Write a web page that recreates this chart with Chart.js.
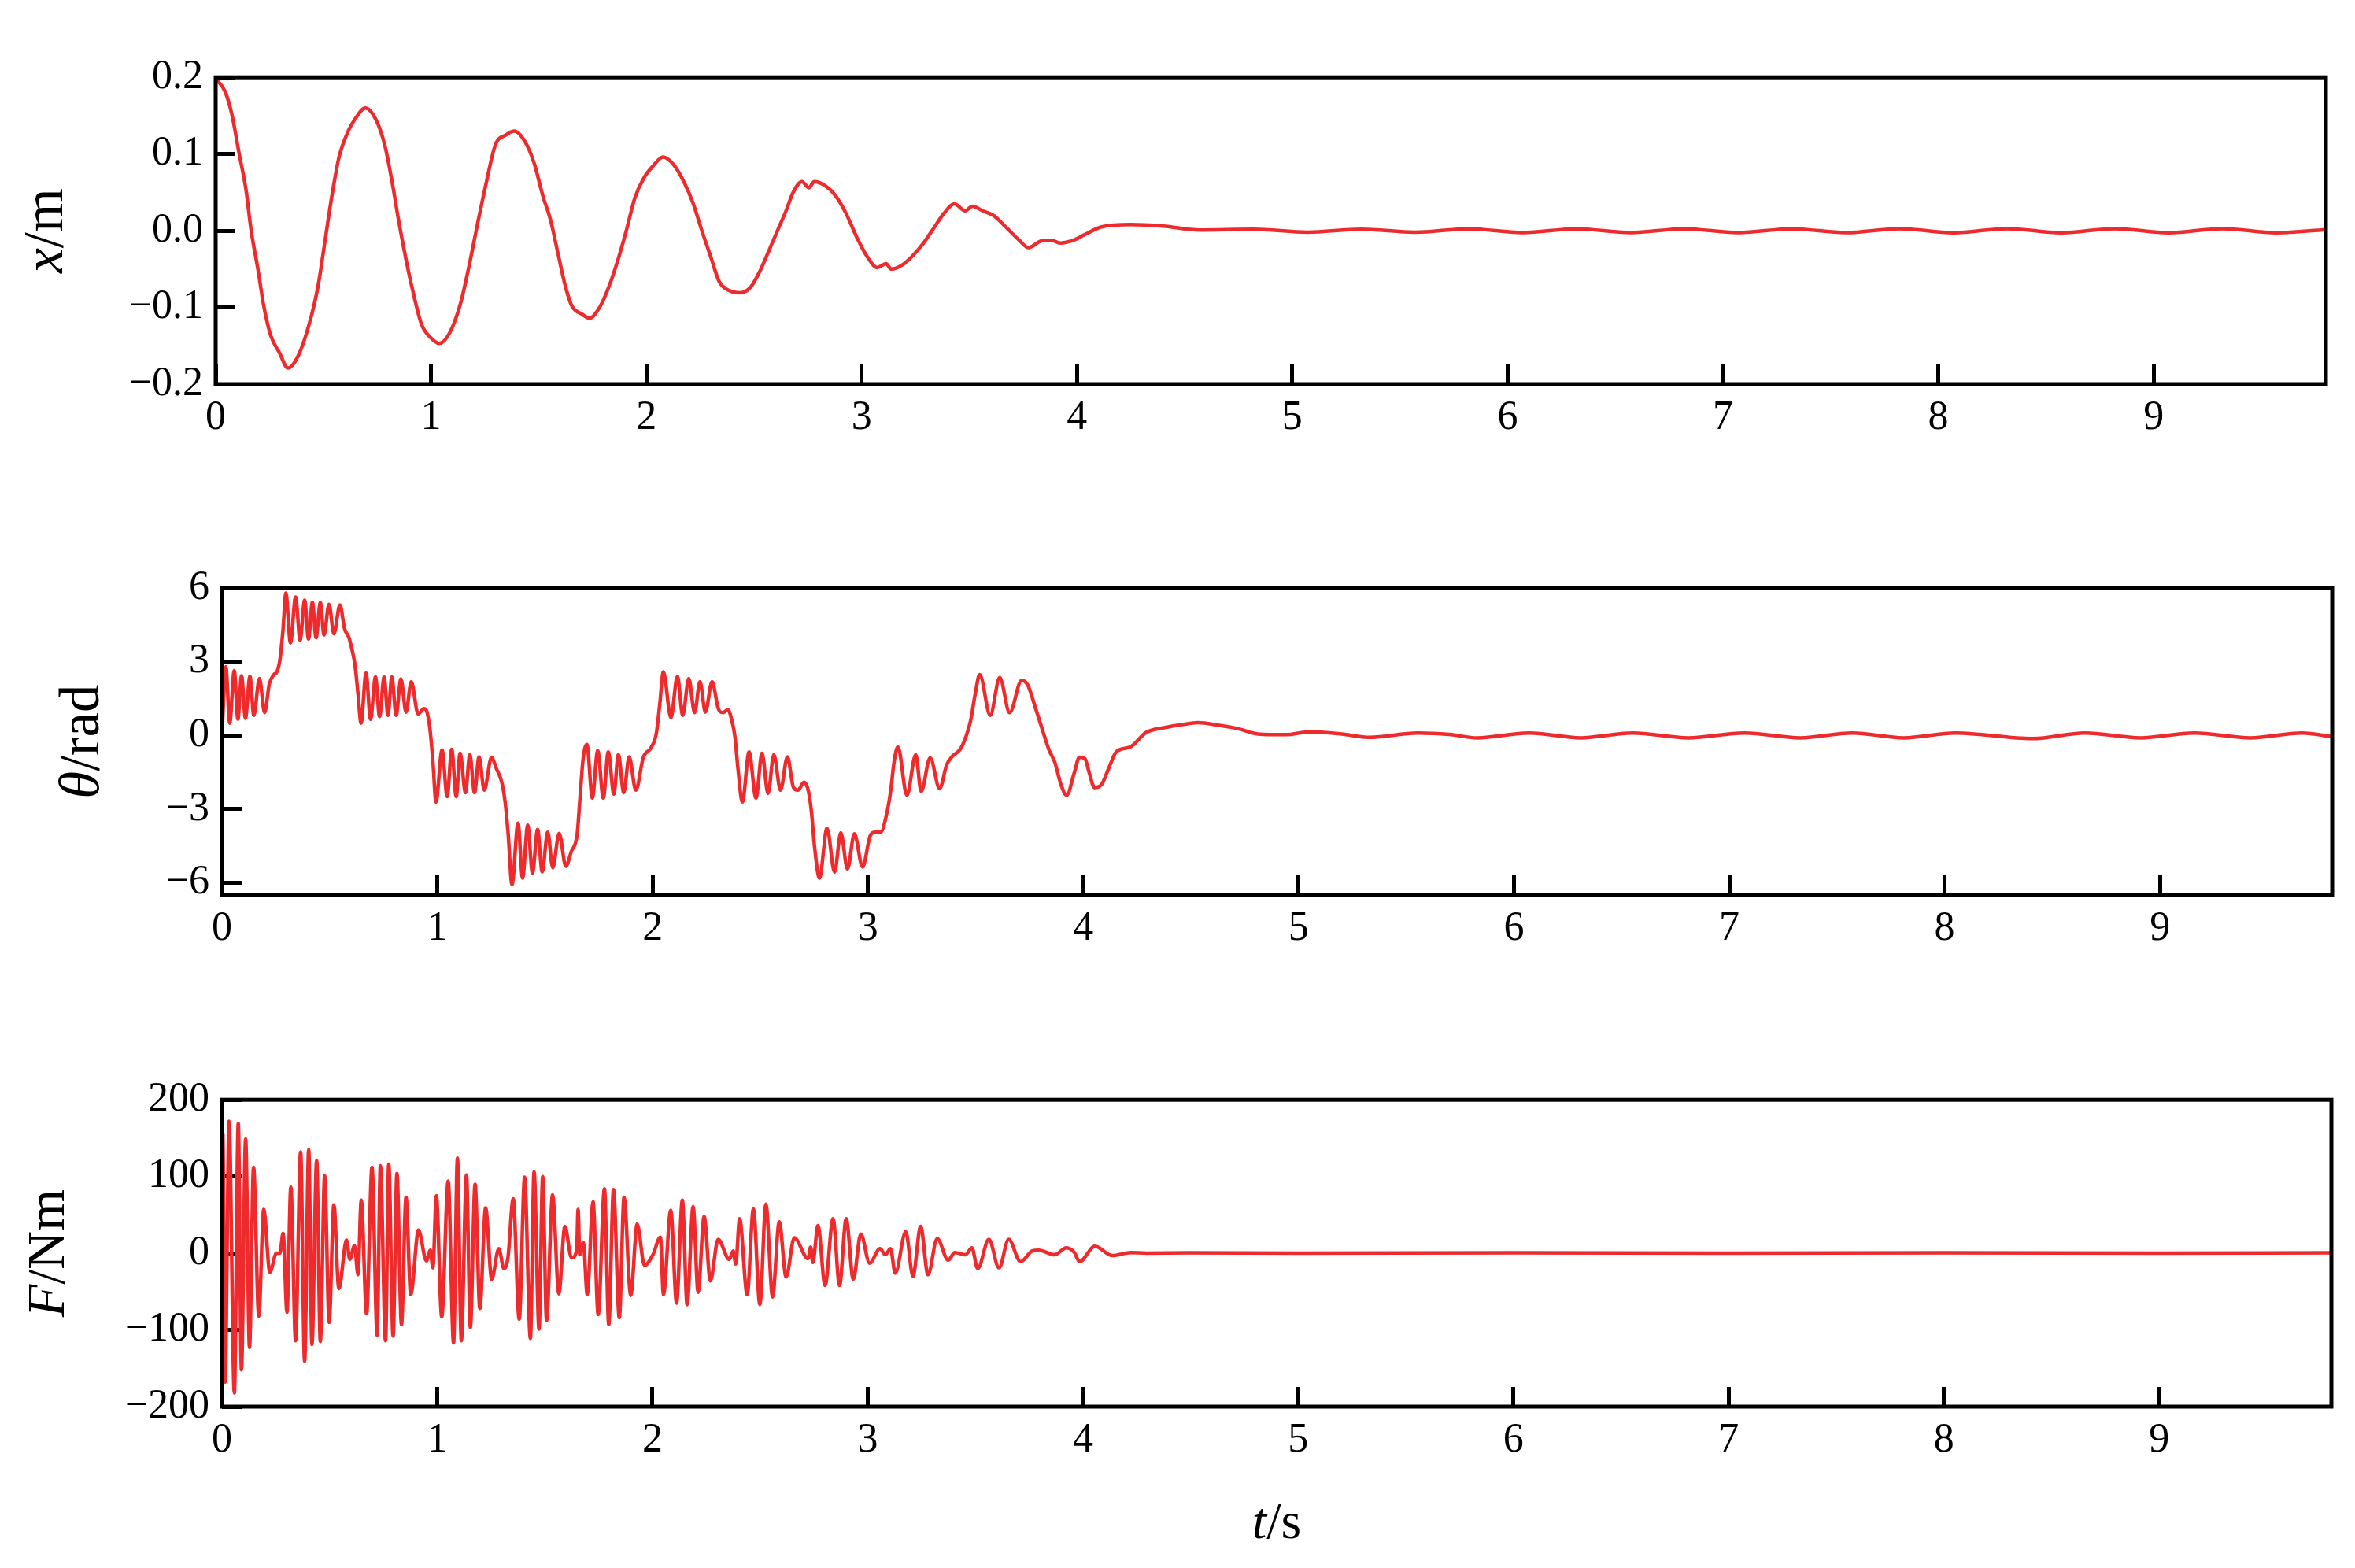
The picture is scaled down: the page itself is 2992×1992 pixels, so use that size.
<!DOCTYPE html>
<html>
<head>
<meta charset="utf-8">
<script src="https://cdn.jsdelivr.net/npm/chart.js@4.4.1/dist/chart.umd.min.js"></script>
<style>
  body { margin: 0; background: #fff; }
  canvas { position: absolute; left: 0; }
</style>
</head>
<body>
<canvas id="chartX"></canvas>
<canvas id="chartTheta"></canvas>
<canvas id="chartF"></canvas>
<script>
// time axis (s)
const tTicks = [0, 1, 2, 3, 4, 5, 6, 7, 8, 9];
const tTickLabels = ['0', '1', '2', '3', '4', '5', '6', '7', '8', '9'];

// x / m
const xTime = [0, 0.043, 0.075, 0.108, 0.141, 0.165, 0.198, 0.222, 0.255, 0.296,
  0.336, 0.385, 0.434, 0.475, 0.508, 0.54, 0.573, 0.614, 0.646, 0.695,
  0.744, 0.785, 0.818, 0.85, 0.883, 0.916, 0.956, 0.997, 1.038, 1.087,
  1.136, 1.176, 1.217, 1.257, 1.299, 1.348, 1.388, 1.437, 1.478, 1.519,
  1.556, 1.59, 1.622, 1.654, 1.703, 1.735, 1.785, 1.826, 1.866, 1.907,
  1.947, 1.989, 2.03, 2.078, 2.127, 2.176, 2.217, 2.258, 2.298, 2.338,
  2.371, 2.437, 2.486, 2.527, 2.568, 2.609, 2.649, 2.682, 2.723, 2.755,
  2.78, 2.829, 2.878, 2.927, 2.975, 3.024, 3.073, 3.113, 3.138, 3.187,
  3.236, 3.285, 3.334, 3.383, 3.431, 3.481, 3.514, 3.562, 3.612, 3.676,
  3.734, 3.775, 3.84, 3.888, 3.92, 3.986, 4.036, 4.114, 4.25, 4.4,
  4.57, 4.82, 5.07, 5.32, 5.57, 5.82, 6.07, 6.32, 6.57, 6.82,
  7.07, 7.32, 7.57, 7.82, 8.07, 8.32, 8.57, 8.82, 9.07, 9.32,
  9.57, 9.8];
const xVals = [0.198, 0.182, 0.152, 0.102, 0.053, 0.0, -0.053, -0.096, -0.136, -0.159,
  -0.179, -0.162, -0.122, -0.073, -0.013, 0.046, 0.096, 0.129, 0.145, 0.16,
  0.145, 0.112, 0.066, 0.013, -0.036, -0.079, -0.122, -0.139, -0.147, -0.133,
  -0.096, -0.047, 0.01, 0.063, 0.112, 0.125, 0.13, 0.116, 0.089, 0.046,
  0.013, -0.03, -0.07, -0.098, -0.109, -0.114, -0.099, -0.073, -0.04, 0.0,
  0.043, 0.069, 0.084, 0.096, 0.086, 0.063, 0.036, 0.0, -0.033, -0.066,
  -0.076, -0.081, -0.073, -0.053, -0.027, 0.0, 0.026, 0.05, 0.064, 0.056,
  0.064, 0.059, 0.046, 0.023, -0.007, -0.033, -0.048, -0.043, -0.05, -0.045,
  -0.033, -0.017, 0.003, 0.023, 0.035, 0.026, 0.032, 0.026, 0.02, 0.003,
  -0.013, -0.022, -0.013, -0.013, -0.016, -0.012, -0.005, 0.005, 0.008, 0.006,
  0.001, 0.002, -0.002, 0.002, -0.002, 0.0025, -0.0025, 0.0025, -0.0025, 0.0025,
  -0.0025, 0.0025, -0.0025, 0.0027, -0.0027, 0.0027, -0.0027, 0.0027, -0.0027, 0.0027,
  -0.0027, 0.0015];
const xTicks = [-0.2, -0.1, 0, 0.1, 0.2];
const xTickLabels = ['\u22120.2', '\u22120.1', '0.0', '0.1', '0.2'];

// theta / rad
const thetaTime = [0, 0.018, 0.036, 0.057, 0.074, 0.091, 0.109, 0.13, 0.148, 0.174,
  0.198, 0.22, 0.241, 0.255, 0.269, 0.283, 0.297, 0.318, 0.342, 0.363,
  0.384, 0.402, 0.42, 0.437, 0.457, 0.474, 0.497, 0.52, 0.548, 0.569,
  0.59, 0.604, 0.618, 0.632, 0.646, 0.669, 0.69, 0.713, 0.732, 0.753,
  0.771, 0.789, 0.809, 0.831, 0.855, 0.879, 0.911, 0.939, 0.953, 0.967,
  0.98, 0.994, 1.022, 1.046, 1.067, 1.088, 1.106, 1.131, 1.151, 1.173,
  1.194, 1.218, 1.252, 1.273, 1.301, 1.315, 1.329, 1.347, 1.375, 1.396,
  1.42, 1.442, 1.466, 1.487, 1.513, 1.536, 1.566, 1.597, 1.622, 1.65,
  1.664, 1.678, 1.695, 1.72, 1.745, 1.771, 1.794, 1.82, 1.841, 1.866,
  1.891, 1.922, 1.957, 1.992, 2.017, 2.033, 2.05, 2.085, 2.115, 2.14,
  2.168, 2.195, 2.22, 2.245, 2.276, 2.305, 2.326, 2.35, 2.368, 2.382,
  2.396, 2.417, 2.448, 2.48, 2.508, 2.536, 2.563, 2.594, 2.626, 2.654,
  2.675, 2.703, 2.724, 2.738, 2.752, 2.775, 2.81, 2.845, 2.874, 2.905,
  2.937, 2.975, 3.01, 3.031, 3.059, 3.086, 3.107, 3.121, 3.139, 3.181,
  3.222, 3.247, 3.289, 3.333, 3.365, 3.393, 3.428, 3.456, 3.477, 3.498,
  3.519, 3.568, 3.612, 3.658, 3.714, 3.742, 3.777, 3.812, 3.84, 3.868,
  3.895, 3.923, 3.958, 3.982, 4.007, 4.028, 4.052, 4.084, 4.119, 4.153,
  4.218, 4.292, 4.385, 4.459, 4.533, 4.626, 4.718, 4.811, 4.941, 5.052,
  5.2, 5.33, 5.552, 5.7, 5.83, 6.07, 6.31, 6.55, 6.81, 7.07,
  7.33, 7.57, 7.81, 8.05, 8.41, 8.65, 8.91, 9.16, 9.42, 9.66,
  9.8];
const thetaVals = [0, 2.8, 0.5, 2.64, 0.66, 2.43, 0.7, 2.41, 0.82, 2.32,
  0.93, 2.1, 2.48, 2.59, 3.07, 4.25, 5.8, 3.77, 5.64, 3.88,
  5.51, 3.93, 5.43, 3.98, 5.41, 4.09, 5.34, 4.14, 5.32, 4.36,
  3.98, 3.5, 2.86, 1.68, 0.5, 2.54, 0.66, 2.38, 0.77, 2.38,
  0.82, 2.38, 0.82, 2.3, 0.95, 2.19, 0.88, 1.09, 0.93, 0.18,
  -1.1, -2.71, -0.59, -2.49, -0.57, -2.49, -0.73, -2.33, -0.78, -2.33,
  -0.87, -2.23, -0.89, -1.32, -1.96, -2.71, -3.99, -6.08, -3.57, -5.81,
  -3.65, -5.6, -3.83, -5.55, -3.94, -5.39, -3.99, -5.33, -4.74, -3.99,
  -2.39, -0.89, -0.37, -2.55, -0.62, -2.55, -0.67, -2.39, -0.78, -2.33,
  -0.87, -2.23, -0.89, -0.51, 0.07, 1.25, 2.59, 0.72, 2.41, 0.82,
  2.32, 0.93, 2.19, 0.95, 2.19, 1.09, 0.93, 1.04, 0.61, -0.03,
  -1.32, -2.71, -0.67, -2.55, -0.73, -2.36, -0.78, -2.23, -0.87, -2.12,
  -2.23, -1.91, -2.28, -3.14, -4.53, -5.81, -3.78, -5.57, -3.97, -5.44,
  -4.01, -5.36, -4.1, -3.94, -3.94, -3.24, -2.17, -1.1, -0.46, -2.44,
  -0.78, -2.28, -0.91, -2.17, -1.21, -0.84, -0.57, -0.03, 0.61, 1.68,
  2.48, 0.82, 2.36, 0.93, 2.25, 2.06, 1.15, 0.18, -0.57, -1.1,
  -1.96, -2.44, -1.53, -0.89, -0.94, -1.53, -2.12, -2.01, -1.32, -0.67,
  -0.47, 0.12, 0.33, 0.44, 0.52, 0.42, 0.28, 0.06, 0.03, 0.15,
  0.06, -0.08, 0.1, 0.04, -0.1, 0.1, -0.1, 0.1, -0.1, 0.1,
  -0.1, 0.1, -0.1, 0.1, -0.13, 0.1, -0.1, 0.1, -0.1, 0.1,
  -0.05];
const thetaTicks = [-6, -3, 0, 3, 6];
const thetaTickLabels = ['\u22126', '\u22123', '0', '3', '6'];

// F / Nm
const fTime = [0, 0.004, 0.0147, 0.033, 0.0575, 0.0758, 0.0905, 0.11, 0.128, 0.1467,
  0.171, 0.194, 0.2225, 0.253, 0.269, 0.284, 0.302, 0.32, 0.342, 0.3655,
  0.384, 0.403, 0.418, 0.44, 0.457, 0.477, 0.498, 0.52, 0.543, 0.579,
  0.594, 0.616, 0.632, 0.647, 0.672, 0.697, 0.721, 0.736, 0.76, 0.775,
  0.795, 0.813, 0.834, 0.855, 0.877, 0.913, 0.95, 0.968, 0.98, 0.996,
  1.021, 1.051, 1.076, 1.094, 1.112, 1.136, 1.154, 1.176, 1.198, 1.225,
  1.253, 1.286, 1.31, 1.329, 1.353, 1.381, 1.406, 1.433, 1.45, 1.473,
  1.49, 1.508, 1.536, 1.565, 1.593, 1.624, 1.648, 1.6545, 1.662, 1.679,
  1.697, 1.724, 1.748, 1.777, 1.797, 1.819, 1.846, 1.868, 1.899, 1.929,
  1.963, 2.002, 2.037, 2.051, 2.085, 2.112, 2.139, 2.161, 2.189, 2.212,
  2.24, 2.269, 2.305, 2.357, 2.375, 2.387, 2.405, 2.44, 2.469, 2.499,
  2.527, 2.558, 2.589, 2.621, 2.659, 2.723, 2.735, 2.745, 2.769, 2.802,
  2.839, 2.869, 2.9, 2.933, 2.968, 3.009, 3.057, 3.082, 3.106, 3.128,
  3.177, 3.21, 3.246, 3.28, 3.323, 3.374, 3.405, 3.454, 3.484, 3.511,
  3.563, 3.61, 3.655, 3.71, 3.765, 3.795, 3.868, 3.923, 3.96, 3.984,
  4.055, 4.137, 4.222, 4.295, 4.49, 5, 6, 7, 8, 9,
  9.8];
const fVals = [-25, 156, -168, 172, -182, 169, -152, 149, -123, 112,
  -82, 57, -25, 0, 0, 26, -77, 86, -114, 132,
  -141, 135, -119, 121, -115, 101, -90, 63, -46, 17,
  -8, 10, -28, 69, -79, 112, -107, 114, -114, 116,
  -108, 104, -93, 73, -54, 30, -10, 4, -19, 75,
  -83, 94, -117, 124, -114, 102, -97, 90, -72, 59,
  -34, 6, -20, -5, 71, -86, 99, -111, 106, -99,
  100, -88, 76, -53, 35, -6, 4, 57, -2, 14,
  -54, 67, -80, 84, -93, 83, -84, 73, -55, 38,
  -16, -2, 21, -54, 56, -65, 69, -67, 61, -51,
  48, -36, 18, -8, 3, -14, 45, -54, 58, -67,
  64, -57, 41, -31, 20, -7, 8, -12, 36, -42,
  45, -42, 45, -34, 25, -13, 6, -2, 6, -26,
  28, -30, 35, -28, 19, -9, 1, -2, 7, -20,
  18, -19, 18, -11, 3, 4, -2, 7, 1, -11,
  9, -3, 1, 0, 0.5, 0, 0.5, 0, 0.5, 0,
  0.5];
const fTicks = [-200, -100, 0, 100, 200];
const fTickLabels = ['\u2212200', '\u2212100', '0', '100', '200'];

[[xTime, xVals], [thetaTime, thetaVals], [fTime, fVals]].forEach(function (p, k) {
  if (p[0].length !== p[1].length) throw new Error('series ' + k + ': ' + p[0].length + ' times vs ' + p[1].length + ' values');
});

const FONT = '"Liberation Serif", "Times New Roman", serif';
const RED = '#ee2a2d';

// draws a title made of italic / upright pieces, centred on (cx, cy)
function drawRich(ctx, parts, size, cx, cy, rot) {
  ctx.save();
  ctx.translate(cx, cy);
  ctx.rotate(rot);
  ctx.fillStyle = '#000';
  ctx.textBaseline = 'middle';
  ctx.textAlign = 'left';
  const fonts = parts.map(p => (p.it ? 'italic ' : '') + size + 'px ' + FONT);
  let total = 0;
  const widths = parts.map((p, i) => {
    ctx.font = fonts[i];
    const w = ctx.measureText(p.s).width;
    total += w;
    return w;
  });
  let x = -total / 2;
  parts.forEach((p, i) => {
    ctx.font = fonts[i];
    ctx.fillText(p.s, x, 0);
    x += widths[i];
  });
  ctx.restore();
}

const frame = {
  id: 'frame',
  afterDraw(chart, args, opts) {
    const ctx = chart.ctx, a = chart.chartArea;
    ctx.save();
    ctx.strokeStyle = '#000';
    ctx.lineWidth = 5;
    ctx.strokeRect(a.left, a.top, a.right - a.left, a.bottom - a.top);
    ctx.restore();
    drawRich(ctx, opts.yTitle, opts.yTitleSize, opts.yTitleX, (a.top + a.bottom) / 2, -Math.PI / 2);
    if (opts.xTitle) drawRich(ctx, opts.xTitle, 66, (a.left + a.right) / 2, a.bottom + opts.xTitleDy, 0);
  }
};

function makePanel(id, box, time, vals, yMin, yMax, yTicks, yLabels, titleOpts, extraBottom) {
  const padTop = 30, axisH = 100;
  const cv = document.getElementById(id);
  const h = (box.bottom - box.top) + padTop + axisH + extraBottom;
  cv.width = 2992;
  cv.height = h;
  cv.style.top = (box.top - padTop) + 'px';
  cv.style.width = '2992px';
  cv.style.height = h + 'px';

  const points = time.map((t, i) => ({ x: t, y: vals[i] }));
  const tickFont = { family: FONT, size: 52 };
  const gridOpts = { drawOnChartArea: false, drawTicks: true, tickLength: -25, tickWidth: 5, lineWidth: 5, tickColor: '#000', color: '#000' };

  return new Chart(cv, {
    type: 'line',
    data: {
      datasets: [{
        data: points,
        borderColor: RED,
        borderWidth: 4.5,
        pointRadius: 0,
        fill: false,
        cubicInterpolationMode: 'monotone'
      }]
    },
    options: {
      responsive: false,
      animation: false,
      devicePixelRatio: 1,
      layout: { padding: { top: padTop, left: 0, right: 2992 - box.right, bottom: extraBottom } },
      plugins: {
        legend: { display: false },
        tooltip: { enabled: false },
        frame: titleOpts
      },
      scales: {
        x: {
          type: 'linear',
          min: 0,
          max: 9.8,
          afterBuildTicks: s => { s.ticks = tTicks.map(v => ({ value: v })); },
          afterFit: s => { s.height = axisH; },
          border: { display: false },
          grid: gridOpts,
          ticks: {
            autoSkip: false, maxRotation: 0, minRotation: 0, padding: 37,
            color: '#000', font: tickFont,
            callback: (v, i) => tTickLabels[i]
          }
        },
        y: {
          type: 'linear',
          min: yMin,
          max: yMax,
          afterBuildTicks: s => { s.ticks = yTicks.map(v => ({ value: v })); },
          afterFit: s => { s.width = box.left; },
          border: { display: false },
          grid: gridOpts,
          ticks: {
            autoSkip: false, padding: 41,
            color: '#000', font: tickFont,
            callback: (v, i) => yLabels[i]
          }
        }
      }
    },
    plugins: [frame]
  });
}

makePanel('chartX', { top: 56, bottom: 488, left: 274, right: 2955 },
  xTime, xVals, -0.2, 0.2, xTicks, xTickLabels,
  { yTitle: [{ s: 'x', it: true }, { s: '/m' }], yTitleSize: 72, yTitleX: 60 }, 0);

makePanel('chartTheta', { top: 705, bottom: 1137, left: 282, right: 2963 },
  thetaTime, thetaVals, -6.5, 6, thetaTicks, thetaTickLabels,
  { yTitle: [{ s: '\u03b8', it: true }, { s: '/rad' }], yTitleSize: 71, yTitleX: 106 }, 0);

makePanel('chartF', { top: 1355, bottom: 1787, left: 282, right: 2962 },
  fTime, fVals, -200, 200, fTicks, fTickLabels,
  { yTitle: [{ s: 'F', it: true }, { s: '/Nm' }], yTitleSize: 68, yTitleX: 63,
    xTitle: [{ s: 't', it: true }, { s: '/s' }], xTitleDy: 150 }, 105);
</script>
</body>
</html>
